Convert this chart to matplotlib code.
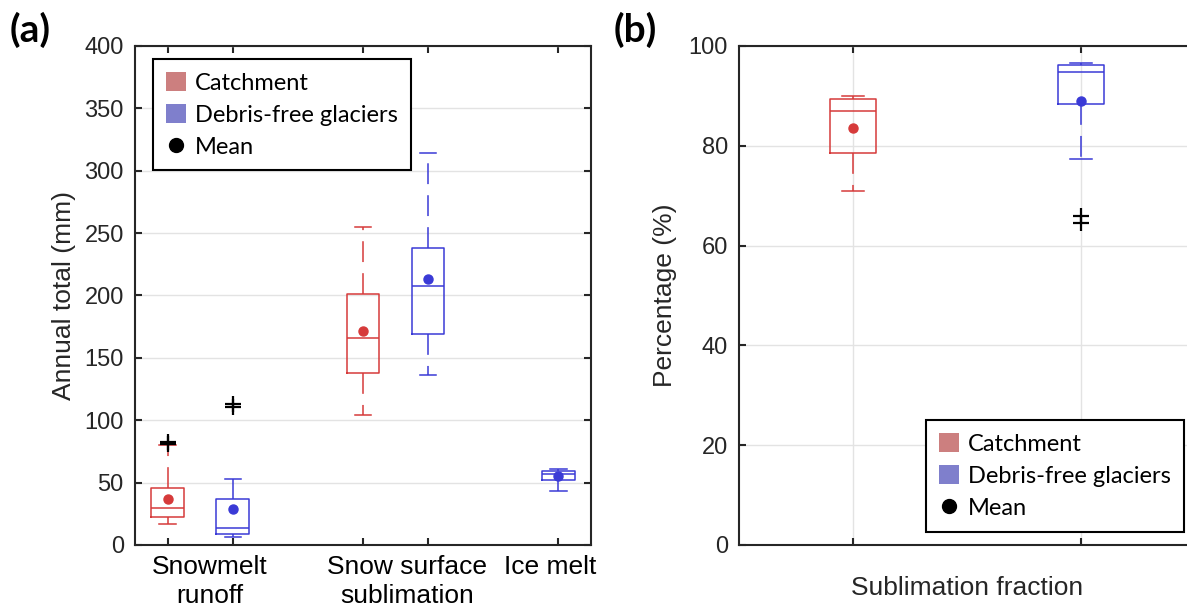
import matplotlib
matplotlib.use("Agg")
from matplotlib import pyplot as plt
from matplotlib.patches import Patch
from matplotlib.lines import Line2D

# (a) annual totals (mm)
cat_pos = [1, 4]  # snowmelt runoff, snow surface sublimation
cat_q1 = [22.7, 138.2]
cat_med = [29.9, 166.3]
cat_q3 = [46.0, 200.8]
cat_lo = [16.8, 104.3]
cat_hi = [80.0, 254.5]
cat_mean = [36.6, 171.4]
cat_out = [[80.6, 82.8], []]

gla_pos = [2, 5, 7]  # snowmelt runoff, sublimation, ice melt
gla_q1 = [8.6, 169.0, 51.7]
gla_med = [13.4, 207.7, 56.9]
gla_q3 = [36.6, 238.0, 59.1]
gla_lo = [6.7, 136.6, 43.1]
gla_hi = [52.7, 314.2, 61.3]
gla_mean = [29.1, 213.4, 55.0]
gla_out = [[110.4, 113.0], [], []]

cat_labels = ["Snowmelt\nrunoff", "Snow surface\nsublimation", "Ice melt"]
cat_label_x = [1.65, 4.68, 6.88]

# (b) sublimation fraction (%)
frac_q1 = [78.6, 88.3]
frac_med = [87.0, 94.7]
frac_q3 = [89.3, 96.2]
frac_lo = [71.0, 77.4]
frac_hi = [89.9, 96.6]
frac_mean = [83.6, 89.0]
frac_out = [[], [64.6, 66.0]]

RED = "#d63a3a"
BLUE = "#3a3ad6"
SPINE = "#262626"
GRID = "#e3e3e3"

plt.rcParams["font.family"] = ["Liberation Sans", "DejaVu Sans"]
plt.rcParams["lines.scale_dashes"] = False


def stats_list(q1, med, q3, lo, hi, mean, out):
    return [dict(q1=a, med=b, q3=c, whislo=d, whishi=e, mean=f, fliers=g)
            for a, b, c, d, e, f, g in zip(q1, med, q3, lo, hi, mean, out)]


def draw_boxes(ax, stats, pos, color, width, capw):
    ax.bxp(stats, positions=pos, widths=width, capwidths=capw, showmeans=True,
           boxprops=dict(color=color, lw=1.1),
           medianprops=dict(color=color, lw=1.1),
           whiskerprops=dict(color=color, lw=1.1, linestyle=(0, (15, 8))),
           capprops=dict(color=color, lw=1.1),
           meanprops=dict(marker="o", markerfacecolor=color, markeredgecolor=color, markersize=6.5),
           flierprops=dict(marker="+", markeredgecolor="black", markersize=12, markeredgewidth=1.6),
           manage_ticks=False)


def style_axes(ax):
    for s in ax.spines.values():
        s.set_color(SPINE)
        s.set_linewidth(1.5)
    ax.tick_params(direction="in", length=5, width=1.5, color=SPINE, top=True, right=True,
                   labelsize=17, labelcolor="#262626", pad=8)
    ax.set_axisbelow(True)


def add_legend(ax, loc, anchor):
    handles = [Patch(facecolor="#cc7f7f", edgecolor="none"),
               Patch(facecolor="#7f7fcc", edgecolor="none"),
               Line2D([], [], ls="none", marker="o", color="black", markersize=10)]
    leg = ax.legend(handles, ["Catchment", "Debris-free glaciers", "Mean"], loc=loc,
                    bbox_to_anchor=anchor, borderaxespad=0, fancybox=False, framealpha=1,
                    edgecolor="black", prop=dict(family="Lato", size=17), handlelength=0.85,
                    handleheight=0.85, handletextpad=0.38, labelspacing=0.44, borderpad=0.55)
    leg.get_frame().set_linewidth(1.5)


fig = plt.figure(figsize=(11.87, 6.10), dpi=100)
ax1 = fig.add_axes([0.1137, 0.1066, 0.3842, 0.818])
ax2 = fig.add_axes([0.6226, 0.1066, 0.3842, 0.818])

# panel (a)
draw_boxes(ax1, stats_list(cat_q1, cat_med, cat_q3, cat_lo, cat_hi, cat_mean, cat_out),
           cat_pos, RED, 0.5, 0.25)
draw_boxes(ax1, stats_list(gla_q1, gla_med, gla_q3, gla_lo, gla_hi, gla_mean, gla_out),
           gla_pos, BLUE, 0.5, 0.25)
ax1.set_xlim(0.5, 7.5)
ax1.set_ylim(0, 400)
ax1.set_yticks(range(0, 401, 50))
ax1.set_xticks(cat_pos + gla_pos)
ax1.set_xticklabels([])
ax1.grid(axis="y", color=GRID, lw=1)
style_axes(ax1)
ax1.set_ylabel("Annual total (mm)", fontsize=19, color="#262626", labelpad=6)
for lab, x in zip(cat_labels, cat_label_x):
    ax1.text(x, -0.02, lab, transform=ax1.get_xaxis_transform(), ha="center", va="top",
             fontsize=19, linespacing=1.25)
add_legend(ax1, "upper left", (0.04, 0.974))

# panel (b)
draw_boxes(ax2, stats_list(frac_q1[:1], frac_med[:1], frac_q3[:1], frac_lo[:1], frac_hi[:1],
                           frac_mean[:1], frac_out[:1]), [1], RED, 0.2, 0.1)
draw_boxes(ax2, stats_list(frac_q1[1:], frac_med[1:], frac_q3[1:], frac_lo[1:], frac_hi[1:],
                           frac_mean[1:], frac_out[1:]), [2], BLUE, 0.2, 0.1)
ax2.set_xlim(0.5, 2.5)
ax2.set_ylim(0, 100)
ax2.set_yticks(range(0, 101, 20))
ax2.set_xticks([1, 2])
ax2.set_xticklabels([])
ax2.grid(color=GRID, lw=1)
style_axes(ax2)
ax2.set_ylabel("Percentage (%)", fontsize=19, color="#262626", labelpad=8)
ax2.set_xlabel("Sublimation fraction", fontsize=19, color="#262626", labelpad=14)
add_legend(ax2, "lower right", (0.976, 0.026))

fig.text(0.008, 0.98, "(a)", fontsize=28, fontweight="bold", family="Lato", va="top")
fig.text(0.517, 0.98, "(b)", fontsize=28, fontweight="bold", family="Lato", va="top")

fig.savefig("out.png", dpi=100)
